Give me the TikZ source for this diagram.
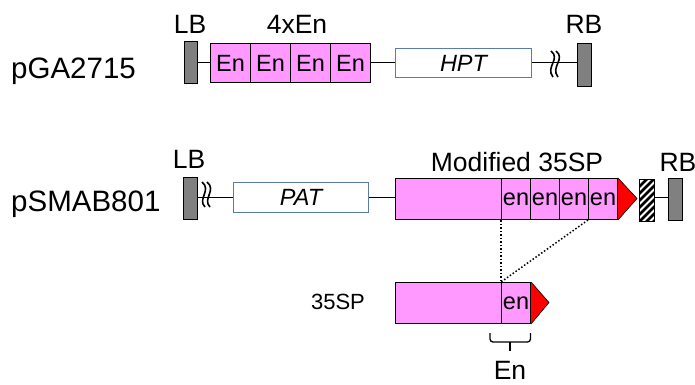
\documentclass[tikz,border=0pt]{standalone}
\usepackage{fontspec}
\setmainfont{Liberation Sans}
\definecolor{pinkfill}{HTML}{FF99FF}
\definecolor{bordgray}{HTML}{808080}
\definecolor{genebord}{HTML}{5A7BAE}
\begin{document}
\begin{tikzpicture}[x=1pt,y=-1pt,
  bigtxt/.style={font=\fontsize{29.5}{33}\selectfont, inner sep=0pt},
  labtxt/.style={font=\fontsize{26.5}{30}\selectfont, inner sep=0pt},
  intxt/.style={font=\fontsize{23.5}{27}\selectfont, inner sep=0pt},
  smtxt/.style={font=\fontsize{22}{26}\selectfont, inner sep=0pt},
  border/.style={draw=black, line width=1pt, fill=bordgray},
  pinkbox/.style={draw=black, line width=1pt, fill=pinkfill},
  genebox/.style={draw=genebord, line width=1pt, fill=white},
  wire/.style={draw=black, line width=1pt},
  squig/.style={draw=black, line width=1.6pt},
  dotline/.style={draw=black, line width=1.5pt, dash pattern=on 1.5pt off 2pt}]
\useasboundingbox (0,0) rectangle (695,384);

% ---------- Row 1: pGA2715 ----------
\node[bigtxt, anchor=base west] (pga) at (11,78) {pGA2715};
\node[labtxt, anchor=base] (lb1) at (190,33) {LB};
\node[labtxt, anchor=base] (enlab) at (297,33) {4xEn};
\node[labtxt, anchor=base] (rb1) at (584,33) {RB};

\coordinate (w1a) at (197,62.5);
\coordinate (w1b) at (577,62.5);
\draw[wire] (w1a) -- (w1b);

\path[border] (184,41) rectangle (197,83);
\node[pinkbox, minimum width=40pt, minimum height=39pt, inner sep=0pt, anchor=north west] (e1) at (210,43) {};
\node[pinkbox, minimum width=40pt, minimum height=39pt, inner sep=0pt, anchor=north west] (e2) at (250,43) {};
\node[pinkbox, minimum width=40pt, minimum height=39pt, inner sep=0pt, anchor=north west] (e3) at (290,43) {};
\node[pinkbox, minimum width=40pt, minimum height=39pt, inner sep=0pt, anchor=north west] (e4) at (330,43) {};
\node[intxt] at (e1.center) {En};
\node[intxt] at (e2.center) {En};
\node[intxt] at (e3.center) {En};
\node[intxt] at (e4.center) {En};

\node[genebox, minimum width=136pt, minimum height=29pt, inner sep=0pt, anchor=north west] (hpt) at (395,48) {};
\node[intxt, font=\fontsize{23.5}{27}\selectfont\itshape] at (hpt.center) {HPT};

% break marks
\draw[squig] (551,51) .. controls (561,59) and (545,67) .. (553,77);
\draw[squig] (556,51) .. controls (566,59) and (550,67) .. (558,77);

\path[border] (577,43) rectangle (591,86);

% ---------- Row 2: pSMAB801 ----------
\node[bigtxt, anchor=base west] (psm) at (11,211) {pSMAB801};
\node[labtxt, anchor=base] (lb2) at (189,168) {LB};
\node[labtxt, anchor=base] (modlab) at (517,171) {Modified 35SP};
\node[labtxt, anchor=base] (rb2) at (678,171) {RB};

\draw[wire] (197,197.5) -- (395,197.5);
\draw[wire] (654,197.5) -- (668,197.5);

\path[border] (183,177) rectangle (197,219);
\draw[squig] (202,182) .. controls (212,190) and (197,199) .. (205,207);
\draw[squig] (207,182) .. controls (217,190) and (202,199) .. (210,207);

\node[genebox, minimum width=135pt, minimum height=30pt, inner sep=0pt, anchor=north west] (pat) at (233,182) {};
\node[intxt, font=\fontsize{23.5}{27}\selectfont\itshape] at (pat.center) {PAT};

\node[pinkbox, minimum width=106pt, minimum height=41pt, inner sep=0pt, anchor=north west] (mbase) at (395,178) {};
\node[pinkbox, minimum width=29pt, minimum height=41pt, inner sep=0pt, anchor=north west] (m1) at (501,178) {};
\node[pinkbox, minimum width=29pt, minimum height=41pt, inner sep=0pt, anchor=north west] (m2) at (530,178) {};
\node[pinkbox, minimum width=29pt, minimum height=41pt, inner sep=0pt, anchor=north west] (m3) at (559,178) {};
\node[pinkbox, minimum width=29pt, minimum height=41pt, inner sep=0pt, anchor=north west] (m4) at (588,178) {};
\node[intxt] at (m1.center) {en};
\node[intxt] at (m2.center) {en};
\node[intxt] at (m3.center) {en};
\node[intxt] at (m4.center) {en};
\fill[red] (m4.north east) -- (637,198.5) -- (m4.south east) -- cycle;
\draw[black, line width=0.6pt] (m4.north east) -- (637,198.5) -- (m4.south east);

% hatched box
\begin{scope}
  \clip (639,179) rectangle (654,221);
  \fill[white] (639,179) rectangle (654,221);
  \foreach \k in {0,...,9} {
    \draw[black, line width=2.6pt] (636,190+7*\k) -- (658,168+7*\k);
  }
\end{scope}
\draw[black, line width=1pt] (639,179) rectangle (654,221);

\path[border] (668,178) rectangle (682,220);

% ---------- Row 3: 35SP ----------
\node[smtxt, anchor=center] (sp) at (338,302) {35SP};
\node[pinkbox, minimum width=106pt, minimum height=41pt, inner sep=0pt, anchor=north west] (sbase) at (395,282) {};
\node[pinkbox, minimum width=29pt, minimum height=41pt, inner sep=0pt, anchor=north west] (sen) at (501,282) {};
\node[intxt] at (sen.center) {en};
\fill[red] (sen.north east) -- (549,302.5) -- (sen.south east) -- cycle;
\draw[black, line width=0.6pt] (sen.north east) -- (549,302.5) -- (sen.south east);

% dotted correspondence lines
\draw[dotline] (m1.south west) -- (sen.north west);
\draw[dotline] (m4.south west) -- (sen.north west);

% brace
\coordinate (bl) at (490,333);
\coordinate (br) at (530.5,333);
\coordinate (bm) at (510,342);
\coordinate (bt) at (510,351);
\draw[black, line width=1.3pt, rounded corners=3pt] (bl) |- (bm) -| (br);
\draw[black, line width=1.3pt] (bm) -- (bt);
\node[labtxt, anchor=base] (enb) at (510,379) {En};
\end{tikzpicture}
\end{document}
